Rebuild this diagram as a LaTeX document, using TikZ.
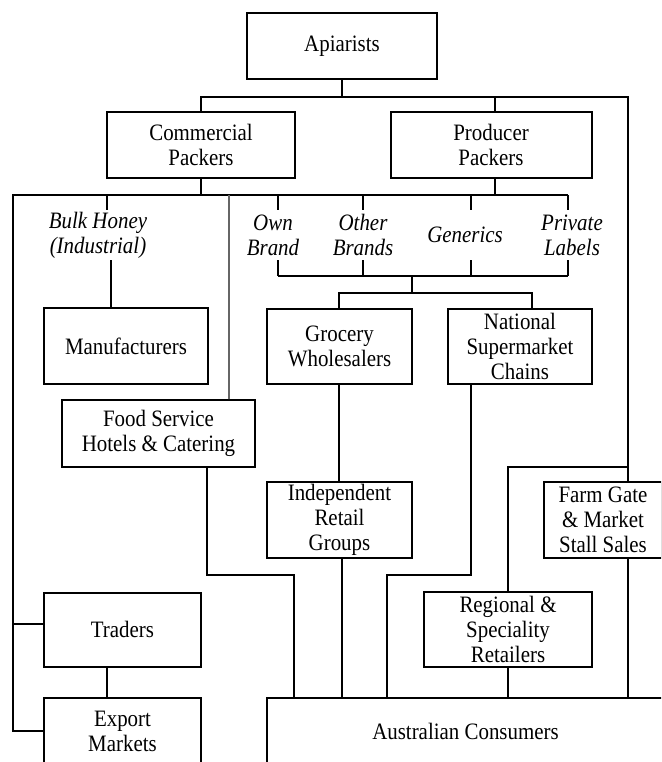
\documentclass[tikz,border=0pt]{standalone}
\usepackage{fontspec}
\setmainfont{Liberation Serif}[FakeStretch=0.89]
\begin{document}
\begin{tikzpicture}[x=1pt,y=-1pt,
  box/.style={draw, line width=2pt, align=center, inner sep=0pt, font=\fontsize{23.5}{25}\selectfont},
  lbl/.style={align=center, inner sep=0pt, font=\fontsize{23.5}{25}\selectfont\itshape},
  conn/.style={line width=2pt},
  grayconn/.style={line width=1.1pt, draw=black!60}]
\useasboundingbox (0,0) rectangle (661,762);
\clip (0,0) rectangle (661,762);
% boxes
\node[box, minimum width=190pt, minimum height=66pt] (apiarists) at (342,46) {Apiarists};
\node[box, minimum width=188pt, minimum height=66pt] (commercial) at (201,145) {Commercial\\Packers};
\node[box, minimum width=201pt, minimum height=66pt] (producer) at (491,145) {Producer\\Packers};
\node[box, minimum width=164pt, minimum height=76pt] (manufacturers) at (126,346) {Manufacturers};
\node[box, minimum width=145pt, minimum height=75pt] (grocery) at (339.5,346.5) {Grocery\\Wholesalers};
\node[box, minimum width=144pt, minimum height=75pt] (national) at (520,346.5) {National\\Supermarket\\Chains};
\node[box, minimum width=193pt, minimum height=67pt] (food) at (158.5,433.5) {Food Service\\Hotels \& Catering};
\node[box, minimum width=145pt, minimum height=76pt] (independent) at (339.5,520) {Independent\\Retail\\Groups};
\node[box, minimum width=118pt, minimum height=76pt] (farm) at (603,520) {Farm Gate\\\& Market\\Stall Sales};
\node[box, minimum width=168pt, minimum height=75pt] (regional) at (508,629.5) {Regional \&\\Speciality\\Retailers};
\node[box, minimum width=157pt, minimum height=74pt] (traders) at (122.5,629.5) {Traders};
\node[box, minimum width=157pt, minimum height=66pt] (export) at (122.5,731) {Export\\Markets};
\node[box, minimum width=397pt, minimum height=66pt] (consumers) at (465.5,731) {Australian Consumers};
% italic labels
\node[lbl, minimum height=50pt] (bulk) at (98,235) {Bulk Honey\\(Industrial)};
\node[lbl, minimum height=50pt] (own) at (273,235) {Own\\Brand};
\node[lbl, minimum height=50pt] (other) at (363,235) {Other\\Brands};
\node[lbl, minimum height=50pt] (generics) at (465,235) {Generics};
\node[lbl, minimum height=50pt] (private) at (572,235) {Private\\Labels};
% row and column coordinates
\coordinate (yA) at (0,97);
\coordinate (yB) at (0,195);
\coordinate (yC) at (0,276);
\coordinate (yD) at (0,293);
\coordinate (yE) at (0,575);
\coordinate (yF) at (0,467);
\coordinate (yT) at (0,624);
\coordinate (xL) at (12.6,0);
\coordinate (xR) at (628,0);
\coordinate (xP) at (495,0);
\coordinate (xBu) at (107,0);
\coordinate (xBl) at (111,0);
\coordinate (xG) at (229,0);
\coordinate (xO) at (278,0);
\coordinate (xOt) at (362.5,0);
\coordinate (xGe) at (471,0);
\coordinate (xPr) at (568,0);
\coordinate (xS) at (412,0);
\coordinate (xGr) at (339,0);
\coordinate (xNa) at (532,0);
\coordinate (xNb) at (471,0);
\coordinate (xNc) at (387,0);
\coordinate (xIn) at (342,0);
\coordinate (xFa) at (207,0);
\coordinate (xFb) at (294,0);
\coordinate (xRe) at (508,0);
\coordinate (xTr) at (107,0);
% connectors
\draw[conn] (apiarists.south) -- (apiarists.south |- yA);
\draw[conn] (commercial.north) -- (commercial.north |- yA) -- (xR |- yA) -- (xR |- farm.north);
\draw[conn] (xP |- producer.north) -- (xP |- yA);
\draw[conn] (xR |- yF) -- (xRe |- yF) -- (xRe |- regional.north);
\draw[conn] (xR |- farm.south) -- (xR |- consumers.north);
\draw[conn] (commercial.south) -- (commercial.south |- yB);
\draw[conn] (xP |- producer.south) -- (xP |- yB);
\draw[conn] (export.west) -- (xL |- export.west) -- (xL |- yB) -- (xPr |- yB);
\draw[conn] (xL |- yT) -- (traders.west |- yT);
\draw[conn] (xBu |- yB) -- (xBu |- bulk.north);
\draw[conn] (xBl |- bulk.south) -- (xBl |- manufacturers.north);
\draw[grayconn] (xG |- yB) -- (xG |- food.north) -- ++(0,-7);
\foreach \l/\x in {own/xO, other/xOt, generics/xGe, private/xPr}{
  \draw[conn] (\x |- yB) -- (\x |- \l.north);
  \draw[conn] (\x |- \l.south) -- (\x |- yC);
}
\draw[conn] (xO |- yC) -- (xPr |- yC);
\draw[conn] (xS |- yC) -- (xS |- yD);
\draw[conn] (xGr |- grocery.north) -- (xGr |- yD) -- (xNa |- yD) -- (xNa |- national.north);
\draw[conn] (xGr |- grocery.south) -- (xGr |- independent.north);
\draw[conn] (xNb |- national.south) -- (xNb |- yE) -- (xNc |- yE) -- (xNc |- consumers.north);
\draw[conn] (xIn |- independent.south) -- (xIn |- consumers.north);
\draw[conn] (xFa |- food.south) -- (xFa |- yE) -- (xFb |- yE) -- (xFb |- consumers.north);
\draw[conn] (regional.south) -- (regional.south |- consumers.north);
\draw[conn] (xTr |- traders.south) -- (xTr |- export.north);
\end{tikzpicture}
\end{document}
